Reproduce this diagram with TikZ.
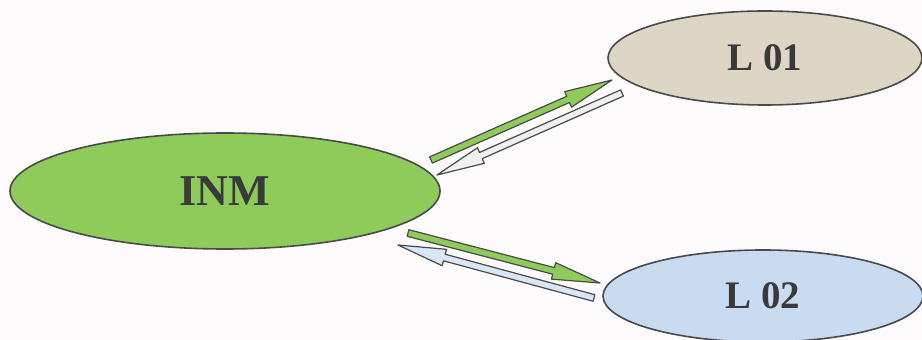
\documentclass[tikz,border=0pt]{standalone}
\usepackage{fontspec}
\setmainfont{Liberation Serif}
\usetikzlibrary{shapes.geometric,calc}
\definecolor{verde}{HTML}{8FCB5A}
\definecolor{sabbia}{HTML}{DDD6C4}
\definecolor{azzurro}{HTML}{C8DBF1}
\definecolor{bordo}{HTML}{4A4A4A}
\definecolor{testo}{HTML}{3A3A3A}
\definecolor{sfondo}{HTML}{FDFBFB}

\begin{document}
\begin{tikzpicture}[x=1pt, y=1pt,
		every node/.style={ellipse, draw=bordo, line width=1.6pt, inner sep=0pt, text=testo},
		freccia/.style={draw=bordo, line width=1.2pt, line join=round, to path={
			($(\tikztostart)!3.4pt!90:(\tikztotarget)$) --
			($(\tikztotarget)!48pt!(\tikztostart)!3.4pt!90:(\tikztotarget)$) --
			($(\tikztotarget)!48pt!(\tikztostart)!8.5pt!90:(\tikztotarget)$) --
			(\tikztotarget) --
			($(\tikztotarget)!48pt!(\tikztostart)!8.5pt!-90:(\tikztotarget)$) --
			($(\tikztotarget)!48pt!(\tikztostart)!3.4pt!-90:(\tikztotarget)$) --
			($(\tikztostart)!3.4pt!-90:(\tikztotarget)$) -- cycle}}]
			\useasboundingbox[fill=sfondo] (0,0) rectangle (922,340);

			% Nodi
			\node[fill=verde, minimum width=430pt, minimum height=116pt, font=\fontsize{44}{48}\selectfont\bfseries] (inm) at (225,149) {INM};
			\node[fill=sabbia, minimum width=314pt, minimum height=94pt, font=\fontsize{39}{44}\selectfont\bfseries] (l01) at (765,282) {L 01};
			\node[fill=azzurro, minimum width=320pt, minimum height=92pt, font=\fontsize{39}{44}\selectfont\bfseries] (l02) at (763,44) {L 02};

			% Estremi delle frecce
			\coordinate (inm-l01) at (431,180);
			\coordinate (l01-in) at (612,260);
			\coordinate (l01-inm) at (622,247);
			\coordinate (inm-in1) at (437,165);
			\coordinate (inm-l02) at (408,107);
			\coordinate (l02-in) at (600,57);
			\coordinate (l02-inm) at (594,42);
			\coordinate (inm-in2) at (398,95);

			% Frecce
			\path[freccia, fill=verde] (inm-l01) to (l01-in);
			\path[freccia, fill=white!94!black] (l01-inm) to (inm-in1);
			\path[freccia, fill=verde] (inm-l02) to (l02-in);
			\path[freccia, fill=azzurro!70!white] (l02-inm) to (inm-in2);
		\end{tikzpicture}
\end{document}
